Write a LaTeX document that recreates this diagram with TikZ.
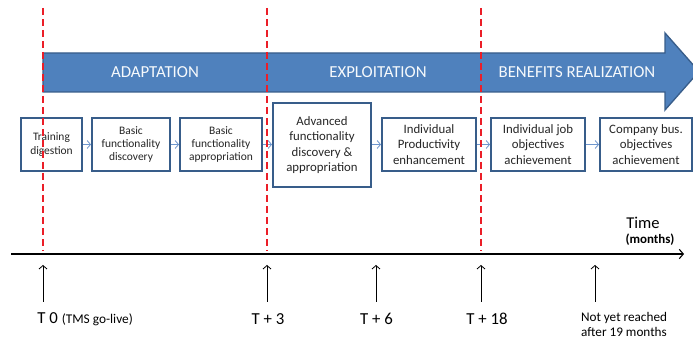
\documentclass[tikz,border=0pt]{standalone}
\usepackage{fontspec}
\setmainfont{Carlito}
\usetikzlibrary{arrows.meta}

\definecolor{phaseblue}{RGB}{79,129,189}
\definecolor{phaseedge}{RGB}{56,93,138}
\definecolor{flowblue}{RGB}{110,150,205}
\definecolor{milered}{RGB}{235,30,40}

\tikzset{every picture/.style={line width=0.75pt}}
\tikzset{
  stepbox/.style={draw=phaseedge, line width=1.4pt, fill=white, align=center, inner sep=0.75pt, text=black!85},
  smalltext/.style={font=\fontsize{8.6}{10}\selectfont},
  bigtext/.style={font=\fontsize{9.6}{11.4}\selectfont},
  flow/.style={draw=flowblue, line width=0.6pt, -{Straight Barb[length=2.6pt,width=6pt]}},
  milestone/.style={draw=milered, line width=1.1pt, dash pattern=on 5.25pt off 3pt},
  tick/.style={draw=black, line width=0.6pt, -{Straight Barb[length=2.6pt,width=6pt]}},
  phase/.style={text=white!95!phaseblue, font=\fontsize{12.6}{14}\selectfont, inner sep=0.75pt},
  ticklabel/.style={inner sep=0.75pt, font=\fontsize{12.6}{14}\selectfont},
}

\begin{document}
\begin{tikzpicture}[x=0.75pt,y=0.75pt,yscale=-1,xscale=1]
\useasboundingbox (0,0) rectangle (693,341);
\clip (0,0) rectangle (693,341);

%Shape: Right Arrow [id:phasearrow]
\draw [draw=phaseedge, fill=phaseblue, line width=1pt] (43,53) -- (665,53) -- (665,33) -- (699,71.5) -- (665,110) -- (665,92) -- (43,92) -- cycle ;

% Text Node
\node [phase] (adapt) at (155,72) {ADAPTATION};
% Text Node
\node [phase] (exploit) at (378,72) {EXPLOITATION};
% Text Node
\node [phase] (benefit) at (577,72) {BENEFITS REALIZATION};

%Shape: Rectangle [id:steps]
\node [stepbox, smalltext, minimum width=45.75pt, minimum height=39.75pt] (train) at (51.5,144.5) {Training\\digestion};
\node [stepbox, smalltext, minimum width=58.5pt, minimum height=39.75pt] (bdisc) at (131,144.5) {Basic\\functionality\\discovery};
\node [stepbox, smalltext, minimum width=61.5pt, minimum height=39.75pt] (bappr) at (221,144.5) {Basic\\functionality\\appropriation};
\node [stepbox, bigtext, minimum width=73.5pt, minimum height=63pt] (adv) at (322,145) {Advanced\\functionality\\discovery \&\\appropriation};
\node [stepbox, bigtext, minimum width=70.5pt, minimum height=39.75pt] (prod) at (429,144.5) {Individual\\Productivity\\enhancement};
\node [stepbox, bigtext, minimum width=70.5pt, minimum height=39.75pt] (job) at (538,144.5) {Individual job\\objectives\\achievement};
\node [stepbox, bigtext, minimum width=69pt, minimum height=39.75pt] (comp) at (646,144.5) {Company bus.\\objectives\\achievement};

%Straight Lines [id:flows]
\draw [flow] (train.east) -- (bdisc.west);
\draw [flow] (bdisc.east) -- (bappr.west);
\draw [flow] (bappr.east) -- (adv.west |- bappr.east);
\draw [flow] (adv.east |- prod.west) -- (prod.west);
\draw [flow] (prod.east) -- (job.west);
\draw [flow] (job.east) -- (comp.west);

%Straight Lines [id:milestones]
\coordinate (m0top) at (43,8);
\coordinate (m0bot) at (43,251);
\coordinate (m3top) at (267,8);
\coordinate (m3bot) at (267,251);
\coordinate (m18top) at (481,8);
\coordinate (m18bot) at (481,251);
\draw [milestone] (m0top) -- (m0bot);
\draw [milestone] (m3top) -- (m3bot);
\draw [milestone] (m18top) -- (m18bot);

%Straight Lines [id:timeaxis]
\coordinate (axisstart) at (11,254);
\coordinate (axisend) at (684,254);
\draw [draw=black, line width=0.8pt, -{Straight Barb[length=3pt,width=7pt]}] (axisstart) -- (axisend);

% Text Node
\node [inner sep=0.75pt, font=\fontsize{12.4}{14}\selectfont] (time) at (643,223) {Time};
% Text Node
\node [inner sep=0.75pt, font=\fontsize{9.7}{11}\selectfont\bfseries] (months) at (650,240) {(months)};

%Straight Lines [id:ticks]
\coordinate (t0a) at (43,302);
\coordinate (t0b) at (43,265);
\coordinate (t3a) at (267,302);
\coordinate (t3b) at (267,265);
\coordinate (t6a) at (376,302);
\coordinate (t6b) at (376,265);
\coordinate (t18a) at (481,302);
\coordinate (t18b) at (481,265);
\coordinate (tna) at (595,302);
\coordinate (tnb) at (595,265);
\draw [tick] (t0a) -- (t0b);
\draw [tick] (t3a) -- (t3b);
\draw [tick] (t6a) -- (t6b);
\draw [tick] (t18a) -- (t18b);
\draw [tick] (tna) -- (tnb);

% Text Node
\node [ticklabel, anchor=west] (lab0) at (36,319) {T 0 {\fontsize{10}{12}\selectfont (TMS go-live)}};
% Text Node
\node [ticklabel] (lab3) at (268,319) {T + 3};
% Text Node
\node [ticklabel] (lab6) at (376.5,319) {T + 6};
% Text Node
\node [ticklabel] (lab18) at (487,319) {T + 18};
% Text Node
\node [inner sep=0.75pt, align=center, font=\fontsize{9.9}{11.3}\selectfont] (labn) at (624,324.5) {Not yet reached\\after 19 months};

\end{tikzpicture}
\end{document}
